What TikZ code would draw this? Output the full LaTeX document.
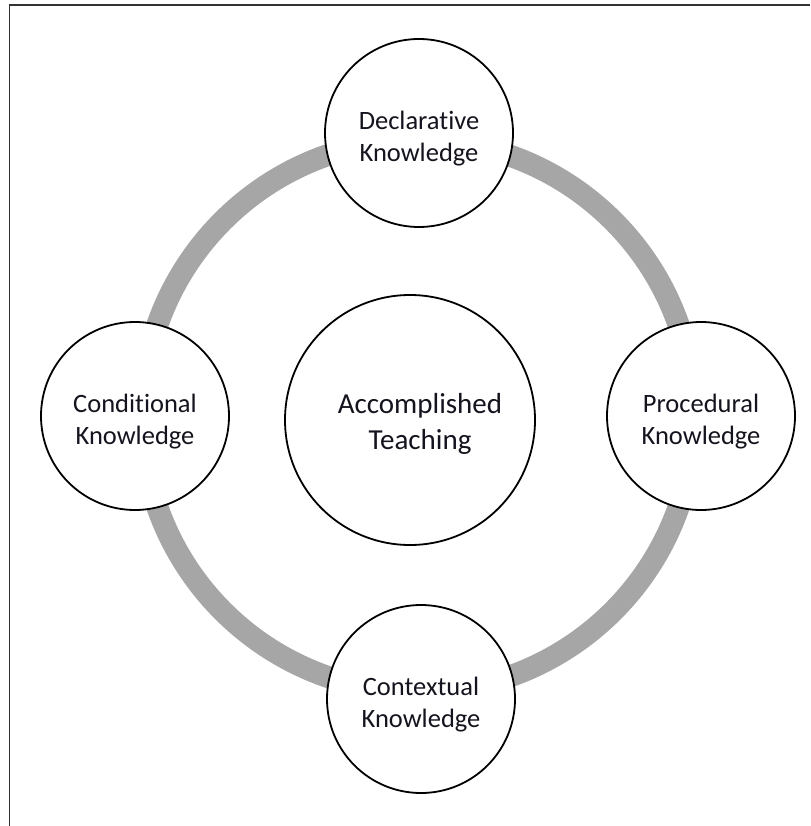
\documentclass[tikz,border=0pt]{standalone}
\usepackage{fontspec}
\setmainfont{Carlito}[Ligatures=NoCommon]
\definecolor{ringgray}{RGB}{166,166,166}
\definecolor{textdark}{RGB}{20,20,30}
\begin{document}
\begin{tikzpicture}[x=1pt,y=-1pt,
  knowbox/.style={circle,draw=black,line width=1.8pt,fill=white,
    minimum size=188pt,inner sep=0pt},
  knowtext/.style={align=center,text=textdark,inner sep=0pt,
    font=\fontsize{26.5}{32}\selectfont},
  corebox/.style={circle,draw=black,line width=1.8pt,fill=white,
    minimum size=250pt,inner sep=0pt},
  coretext/.style={align=center,text=textdark,inner sep=0pt,
    font=\fontsize{29}{36}\selectfont},
  cycle/.style={draw=ringgray,line width=22pt}]
  \useasboundingbox (0,0) rectangle (810,826);
  % page frame: top and left rules
  \coordinate (frameTL) at (9.5,5);
  \coordinate (frameTR) at (810,5);
  \coordinate (frameBL) at (9.5,826);
  \draw[line width=1.6pt,black!80] (frameBL) -- (frameTL) -- (frameTR);
  % grey cycle linking the four kinds of knowledge
  \coordinate (hub) at (418,416);
  \draw[cycle] (hub) circle[radius=276];
  % centre
  \node[corebox] (core) at (410,420) {};
  \node[coretext] (coreT) at (420,424) {Accomplished\\Teaching};
  % four kinds of knowledge
  \node[knowbox] (decl) at (419,133) {};
  \node[knowbox] (proc) at (701,416) {};
  \node[knowbox] (cont) at (421,699) {};
  \node[knowbox] (cond) at (135,416) {};
  \node[knowtext] (declT) at ([yshift=-6pt]decl.center) {Declarative\\Knowledge};
  \node[knowtext] (procT) at ([yshift=-6pt]proc.center) {Procedural\\Knowledge};
  \node[knowtext] (contT) at ([yshift=-6pt]cont.center) {Contextual\\Knowledge};
  \node[knowtext] (condT) at ([yshift=-6pt]cond.center) {Conditional\\Knowledge};
\end{tikzpicture}
\end{document}
